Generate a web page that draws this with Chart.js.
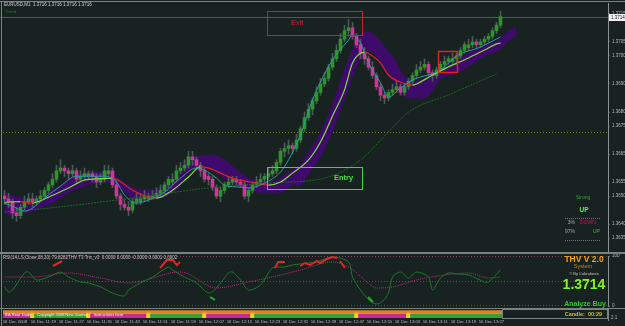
<!DOCTYPE html>
<html>
<head>
<meta charset="utf-8">
<script src="https://cdn.jsdelivr.net/npm/chart.js@4/dist/chart.umd.min.js"></script>
<style>
  body { margin: 0; background: #172221; }
  #wrap { position: relative; width: 625px; height: 326px; overflow: hidden; background: #172221; }
  canvas { position: absolute; left: 0; }
  .sep { position: absolute; background: #7a8282; }
</style>
</head>
<body>
<div id="wrap">
  <canvas id="mainChart" width="625" height="252" style="top:0"></canvas>
  <div class="sep" style="left:0;top:252px;width:625px;height:2px"></div>
  <canvas id="rsiChart" width="625" height="54" style="top:254px"></canvas>
  <div class="sep" style="left:0;top:308px;width:625px;height:1px"></div>
  <canvas id="stripChart" width="625" height="17" style="top:309px"></canvas>
  <div class="sep" style="left:0;top:1px;width:625px;height:1px"></div>
  <div class="sep" style="left:1px;top:1px;width:1px;height:325px"></div>
</div>
<script>
// ---- chart data (EURUSD M1, 16 Dec 2008) ----
const timeLabels = ['16 Dec 2008', '16 Dec 11:19', '16 Dec 11:27', '16 Dec 11:35', '16 Dec 11:43', '16 Dec 11:51',
  '16 Dec 11:59', '16 Dec 12:07', '16 Dec 12:15', '16 Dec 12:23', '16 Dec 12:31', '16 Dec 12:39',
  '16 Dec 12:47', '16 Dec 12:55', '16 Dec 13:03', '16 Dec 13:11', '16 Dec 13:19', '16 Dec 13:27'];
const priceTicks = [1.3715, 1.3705, 1.3700, 1.3690, 1.3680, 1.3675, 1.3665, 1.3655, 1.3650, 1.3640, 1.3635];
const rsiTicks = [0, 100];
const bidPrice = 1.3714;
const levelPrice = 1.3673;

const opens = [
  1.3650,1.3649,1.3648,1.3644,1.3643,1.3646,1.3648,1.3649,1.3648,1.3649,
  1.3650,1.3652,1.3654,1.3656,1.3659,1.3660,1.3659,1.3658,1.3659,1.3656,
  1.3657,1.3657,1.3658,1.3657,1.3655,1.3656,1.3658,1.3659,1.3654,1.3650,
  1.3647,1.3646,1.3645,1.3648,1.3648,1.3649,1.3649,1.3649,1.3650,1.3651,
  1.3652,1.3654,1.3655,1.3656,1.3659,1.3660,1.3661,1.3664,1.3663,1.3661,
  1.3659,1.3657,1.3656,1.3653,1.3650,1.3652,1.3654,1.3655,1.3656,1.3655,
  1.3654,1.3650,1.3652,1.3654,1.3655,1.3656,1.3657,1.3658,1.3659,1.3662,
  1.3666,1.3667,1.3668,1.3667,1.3670,1.3674,1.3678,1.3681,1.3684,1.3687,
  1.3690,1.3692,1.3696,1.3699,1.3702,1.3706,1.3709,1.3710,1.3707,1.3704,
  1.3701,1.3699,1.3696,1.3693,1.3689,1.3686,1.3685,1.3687,1.3688,1.3689,
  1.3687,1.3689,1.3691,1.3693,1.3695,1.3696,1.3697,1.3694,1.3693,1.3695,
  1.3697,1.3698,1.3698,1.3699,1.3700,1.3702,1.3703,1.3704,1.3705,1.3704,
  1.3705,1.3706,1.3707,1.3709,1.3711];
const highs = [
  1.3652,1.3651,1.3649,1.3646,1.3647,1.3650,1.3651,1.3651,1.3650,1.3652,
  1.3653,1.3655,1.3658,1.3661,1.3663,1.3661,1.3660,1.3661,1.3660,1.3659,
  1.3660,1.3659,1.3659,1.3658,1.3658,1.3661,1.3661,1.3660,1.3656,1.3651,
  1.3649,1.3648,1.3649,1.3651,1.3651,1.3652,1.3651,1.3652,1.3653,1.3654,
  1.3655,1.3657,1.3658,1.3661,1.3662,1.3663,1.3666,1.3666,1.3664,1.3662,
  1.3660,1.3658,1.3657,1.3654,1.3653,1.3655,1.3657,1.3657,1.3657,1.3656,
  1.3655,1.3653,1.3655,1.3657,1.3658,1.3658,1.3660,1.3661,1.3663,1.3667,
  1.3669,1.3670,1.3669,1.3672,1.3675,1.3680,1.3683,1.3685,1.3689,1.3692,
  1.3694,1.3697,1.3701,1.3704,1.3708,1.3711,1.3713,1.3712,1.3708,1.3706,
  1.3703,1.3700,1.3698,1.3694,1.3690,1.3687,1.3688,1.3690,1.3691,1.3690,
  1.3690,1.3692,1.3694,1.3697,1.3698,1.3699,1.3698,1.3695,1.3696,1.3698,
  1.3700,1.3700,1.3701,1.3701,1.3703,1.3705,1.3706,1.3707,1.3706,1.3706,
  1.3707,1.3708,1.3710,1.3712,1.3716];
const lows = [
  1.3647,1.3646,1.3642,1.3641,1.3642,1.3645,1.3647,1.3646,1.3647,1.3648,
  1.3649,1.3651,1.3653,1.3655,1.3658,1.3657,1.3656,1.3657,1.3655,1.3655,
  1.3656,1.3656,1.3655,1.3653,1.3654,1.3655,1.3657,1.3653,1.3649,1.3645,
  1.3645,1.3643,1.3644,1.3647,1.3647,1.3648,1.3648,1.3649,1.3649,1.3650,
  1.3651,1.3653,1.3654,1.3655,1.3658,1.3659,1.3660,1.3661,1.3660,1.3657,
  1.3655,1.3654,1.3652,1.3649,1.3648,1.3651,1.3653,1.3654,1.3654,1.3653,
  1.3649,1.3648,1.3651,1.3653,1.3654,1.3655,1.3656,1.3657,1.3658,1.3661,
  1.3664,1.3665,1.3665,1.3666,1.3669,1.3673,1.3677,1.3679,1.3683,1.3686,
  1.3689,1.3691,1.3695,1.3698,1.3701,1.3705,1.3707,1.3706,1.3703,1.3699,
  1.3697,1.3695,1.3692,1.3688,1.3684,1.3683,1.3684,1.3686,1.3687,1.3686,
  1.3686,1.3688,1.3690,1.3692,1.3694,1.3695,1.3693,1.3691,1.3692,1.3694,
  1.3695,1.3697,1.3697,1.3697,1.3699,1.3701,1.3702,1.3703,1.3703,1.3703,
  1.3704,1.3705,1.3706,1.3708,1.3710];
const closes = [
  1.3649,1.3648,1.3644,1.3643,1.3646,1.3648,1.3649,1.3648,1.3649,1.3650,
  1.3652,1.3654,1.3656,1.3659,1.3660,1.3659,1.3658,1.3659,1.3656,1.3657,
  1.3658,1.3658,1.3657,1.3655,1.3656,1.3659,1.3659,1.3654,1.3650,1.3647,
  1.3646,1.3645,1.3648,1.3649,1.3649,1.3650,1.3650,1.3650,1.3651,1.3652,
  1.3654,1.3656,1.3656,1.3659,1.3660,1.3661,1.3664,1.3663,1.3661,1.3659,
  1.3656,1.3656,1.3653,1.3650,1.3652,1.3654,1.3655,1.3656,1.3655,1.3654,
  1.3650,1.3652,1.3654,1.3655,1.3656,1.3657,1.3658,1.3659,1.3662,1.3666,
  1.3667,1.3668,1.3667,1.3670,1.3674,1.3678,1.3681,1.3684,1.3687,1.3690,
  1.3692,1.3696,1.3699,1.3702,1.3706,1.3709,1.3710,1.3707,1.3704,1.3701,
  1.3699,1.3696,1.3693,1.3689,1.3686,1.3685,1.3687,1.3688,1.3689,1.3687,
  1.3689,1.3691,1.3693,1.3695,1.3696,1.3697,1.3694,1.3693,1.3695,1.3697,
  1.3698,1.3699,1.3699,1.3700,1.3702,1.3704,1.3704,1.3705,1.3704,1.3705,
  1.3706,1.3707,1.3709,1.3711,1.3714];

// moving averages, read at bar positions
const fastMaX = [0,2,5,7,10,14,18,21,25,28,30,33,36,40,44,48,50,53,55,59,61,65,69,71,74,77,82,86,87,89,91,94,96,99,102,109,113,119,124];
const fastMaY = [1.36475,1.36464,1.36446,1.36457,1.36493,1.36536,1.36571,1.36571,1.36571,1.36550,1.36504,1.36475,1.36486,
  1.36514,1.36564,1.36600,1.36593,1.36564,1.36539,1.36532,1.36529,1.36546,1.36586,1.36629,1.36718,1.36843,1.36986,
  1.37057,1.37075,1.37046,1.36975,1.36904,1.36854,1.36886,1.36914,1.36950,1.37000,1.37032,1.37068];
const midMaX = [0,4,7,11,16,20,24,27,32,36,38,42,46,49,51,57,63,66,69,72,76,79,82,85,87,90,92,94,96,99,102,103,107,111,116,120,123,124];
const midMaY = [1.36478,1.36480,1.36475,1.36496,1.36529,1.36557,1.36562,1.36564,1.36521,1.36496,1.36493,1.36521,1.36568,
  1.36604,1.36600,1.36564,1.36546,1.36539,1.36550,1.36582,1.36629,1.36693,1.36786,1.36879,1.36975,1.37014,1.37000,
  1.36975,1.36932,1.36907,1.36896,1.36900,1.36932,1.36961,1.36993,1.37021,1.37043,1.37046];
const slowMaX = [0,11,32,51,66,81,89,96,101,111,123];
const slowMaY = [1.36443,1.36457,1.36493,1.36529,1.36546,1.36568,1.36629,1.36729,1.36800,1.36861,1.36936];

// purple trend cloud
const bandX = [0,1,4,6,9,11,14,16,20,24,26,29,32,36,39,43,46,49,52,55,58,61,65,69,72,74,76,79,82,85,88,91,93,95,98,100,103,105,109,113,116,120,124,126,128];
const bandHi = [1.36514,1.36507,1.36493,1.36486,1.36493,1.36514,1.36536,1.36557,1.36582,1.36586,1.36586,1.36557,1.36529,
  1.36521,1.36529,1.36564,1.36629,1.36643,1.36646,1.36629,1.36593,1.36564,1.36550,1.36564,1.36593,1.36611,1.36657,
  1.36725,1.36825,1.36950,1.37050,1.37086,1.37068,1.37032,1.36975,1.36925,1.36910,1.36918,1.36946,1.36982,1.37011,
  1.37036,1.37061,1.37089,1.37100];
const bandLo = [1.36443,1.36432,1.36436,1.36443,1.36457,1.36471,1.36493,1.36514,1.36536,1.36550,1.36550,1.36529,1.36493,
  1.36486,1.36493,1.36521,1.36586,1.36600,1.36593,1.36564,1.36546,1.36521,1.36514,1.36514,1.36539,1.36539,1.36582,
  1.36643,1.36736,1.36850,1.36964,1.37018,1.37000,1.36950,1.36896,1.36857,1.36850,1.36850,1.36918,1.36939,1.36964,
  1.37000,1.37025,1.37054,1.37075];

// lower window: RSI, its signal and the Trix markers
const rsiX = [0,1,2,5,6,8,11,14,16,19,21,24,27,30,31,34,37,41,42,45,48,51,53,56,57,59,61,64,67,70,72,76,78,82,86,87,89,92,94,96,97,99,101,103,106,107,109,111,113,116,120,121,124];
const rsiY = [38,28,32,66,68,52,58,68,58,48,46,38,26,20,32,46,58,78,72,58,46,26,36,66,68,52,32,42,76,78,82,86,88,98,88,58,32,6,6,26,58,68,56,68,58,32,56,66,64,62,48,48,72];
const sigX = [0,7,16,24,31,44,53,61,68,74,82,86,91,93,97,103,110,116,121,124];
const sigY = [58,58,66,56,46,68,36,48,60,72,88,78,46,36,38,52,62,66,56,58];
const trixRed = [[12.1,80],[14.4,90],[15,null],[38.9,76],[40.6,92],[42.1,92],[43.1,82],[43.9,88],[44.5,null],
  [67.6,76],[68.4,88],[70.1,88],[71,null],[73.9,80],[75.1,86],[76.4,82],[78.1,90],[78.9,86],[80.6,94],[82.1,98],
  [83.1,96],[83.5,null],[83.9,90],[85.1,76]];
const trixGreen = [[51.4,18],[52.6,12],[60,null],[90.9,18],[92.1,8]];

// trend strip: bar ranges and state (1 up, -1 down, 0 turn)
const stripStart = [0,7,8,21,22,36,37,50,51,62,63,88,89,101,102];
const stripEnd   = [6,7,20,21,35,36,49,50,61,62,87,88,100,101,124];
const stripState = [-1,0,1,0,-1,0,1,0,-1,0,1,0,-1,0,1];
const stripNotes = ['EA Real Trade', 'Copyright 2008', 'New Journal', 'Instructions here'];

// ---- look ----
const BG = '#172221';
const UP = '#2c9626', DOWN = '#d0359d';
const X_MIN = -0.375, X_MAX = 150.875;
const SMALL = 'Liberation Sans';

const pts = (xs, ys) => xs.map((x, i) => ({ x: x, y: ys[i] }));
const pairs = arr => arr.map(p => ({ x: p[0], y: p[1] }));

function txt(ctx, s, x, y, color, size, align, bold) {
  ctx.font = (bold ? 'bold ' : '') + size + 'px "' + SMALL + '"';
  ctx.fillStyle = color;
  ctx.textAlign = align || 'left';
  ctx.textBaseline = 'middle';
  ctx.fillText(s, x, y);
}
function hline(ctx, x0, x1, y, color, dash) {
  ctx.save();
  ctx.strokeStyle = color;
  ctx.lineWidth = 1;
  ctx.setLineDash(dash || []);
  ctx.beginPath();
  ctx.moveTo(x0, y);
  ctx.lineTo(x1, y);
  ctx.stroke();
  ctx.restore();
}
function rightAxis(width) {
  return s => { s.width = width; s.paddingTop = 0; s.paddingBottom = 0; };
}

const paintBg = {
  id: 'paintBg',
  beforeDraw(chart) {
    const ctx = chart.ctx;
    ctx.save();
    ctx.fillStyle = BG;
    ctx.fillRect(0, 0, chart.width, chart.height);
    ctx.restore();
  }
};

// ---- main window ----
const mainOverlay = {
  id: 'mainOverlay',
  beforeDatasetsDraw(chart) {
    const { ctx, chartArea: a, scales: { y } } = chart;
    hline(ctx, a.left, a.right, Math.round(y.getPixelForValue(levelPrice)) + 0.5, '#7f7b1c', [1, 2]);
    hline(ctx, 0, a.right, Math.round(y.getPixelForValue(bidPrice)) + 0.5, '#4f5a5a');
  },
  afterDatasetsDraw(chart) {
    const { ctx, scales: { x, y } } = chart;
    const box = (b0, b1, p0, p1, color, w) => {
      const r = { l: x.getPixelForValue(b0), r: x.getPixelForValue(b1), t: y.getPixelForValue(p0), b: y.getPixelForValue(p1) };
      ctx.save();
      ctx.strokeStyle = color;
      ctx.lineWidth = w;
      ctx.strokeRect(Math.round(r.l) + 0.5, Math.round(r.t) + 0.5, Math.round(r.r - r.l), Math.round(r.b - r.t));
      ctx.restore();
      return r;
    };
    const ex = box(65.6, 89.4, 1.37161, 1.37075, '#c81e3c', 1);
    txt(ctx, 'Exit', ex.l + 24, (ex.t + ex.b) / 2, '#d0203e', 7.5);
    const en = box(65.6, 89.4, 1.36604, 1.36525, '#3ad83a', 1);
    txt(ctx, 'Entry', en.r - 9, (en.t + en.b) / 2, '#44e044', 7.5, 'right', true);
    box(108.4, 113.1, 1.37018, 1.36943, '#e42020', 1.5);
  },
  afterDraw(chart) {
    const { ctx, chartArea: a, scales: { y } } = chart;
    txt(ctx, 'EURUSD,M1  1.3716 1.3716 1.3716 1.3716', 4, 5, '#d2d2d2', 4.5);
    txt(ctx, 'Trend', 5, 12, '#1f8c22', 4.2);
    // trend readout at the right
    txt(ctx, 'Strong', 583, 198, '#3a9c3a', 5, 'center');
    txt(ctx, 'UP', 584, 210, '#62ec5a', 6.5, 'center', true);
    hline(ctx, 565, 600, 218.5, '#3a9c3a', [1, 1]);
    txt(ctx, '3%', 575, 223, '#a8a8a8', 5, 'right');
    txt(ctx, 'DOWN', 580, 223, '#d0145a', 5);
    txt(ctx, '97%', 575, 232, '#a8a8a8', 5, 'right');
    txt(ctx, 'UP', 593, 232, '#3cbc3c', 5);
    hline(ctx, 565, 600, 240.5, '#6c7272', [1, 1]);
    // current price tag on the price axis
    const by = y.getPixelForValue(bidPrice);
    ctx.fillStyle = '#f2f2f2';
    ctx.fillRect(a.right + 1, Math.round(by) - 3, 16, 7);
    txt(ctx, bidPrice.toFixed(4), a.right + 3, Math.round(by) + 0.5, '#101010', 4.5);
  }
};

new Chart(document.getElementById('mainChart'), {
  type: 'bar',
  data: {
    datasets: [
      { type: 'line', data: pts(bandX, bandLo), borderColor: '#3e0b6c', borderWidth: 1, pointRadius: 0,
        cubicInterpolationMode: 'monotone', order: 10 },
      { type: 'line', data: pts(bandX, bandHi), borderColor: '#3e0b6c', borderWidth: 1, pointRadius: 0,
        cubicInterpolationMode: 'monotone', fill: '-1', backgroundColor: '#3e0b6c', order: 10 },
      { type: 'bar', data: lows.map((l, i) => ({ x: i, y: [l, highs[i]] })), backgroundColor: '#4e5a5a',
        barThickness: 1, grouped: false, order: 9 },
      { type: 'bar', data: opens.map((o, i) => ({ x: i, y: [o, closes[i]] })),
        backgroundColor: closes.map((c, i) => c >= opens[i] ? UP : DOWN),
        barThickness: 3, minBarLength: 1, grouped: false, order: 8 },
      { type: 'line', data: pts(slowMaX, slowMaY), borderColor: '#1f6824', borderWidth: 1, borderDash: [2, 1],
        pointRadius: 0, cubicInterpolationMode: 'monotone', order: 7 },
      { type: 'line', data: pts(midMaX, midMaY), borderColor: '#82de3a', borderWidth: 1.2, pointRadius: 0,
        cubicInterpolationMode: 'monotone', order: 6,
        segment: { borderColor: c => c.p1.parsed.y > c.p0.parsed.y ? '#82de3a' : (c.p1.parsed.y < c.p0.parsed.y ? '#e2241c' : '#e8e02a') } },
      { type: 'line', data: pts(fastMaX, fastMaY), borderColor: '#26a0a4', borderWidth: 1, pointRadius: 0,
        cubicInterpolationMode: 'monotone', order: 5 }
    ]
  },
  options: {
    responsive: false,
    animation: false,
    events: [],
    layout: { padding: { left: 3, top: 3, right: 0, bottom: 1 } },
    plugins: { legend: { display: false }, tooltip: { enabled: false } },
    scales: {
      x: { type: 'linear', min: X_MIN, max: X_MAX, offset: false, display: false },
      y: {
        type: 'linear', position: 'right', min: 1.36304, max: 1.37189,
        afterFit: rightAxis(17),
        afterBuildTicks: s => { s.ticks = priceTicks.map(v => ({ value: v })); },
        ticks: { color: '#b8bcbc', font: { size: 4.5, family: SMALL }, padding: 2, autoSkip: false,
          callback: v => v.toFixed(4) },
        grid: { drawOnChartArea: false, color: '#3d4c9e', tickLength: 2 },
        border: { color: '#8a9292' }
      }
    }
  },
  plugins: [paintBg, mainOverlay]
});

// ---- RSI window ----
const rsiOverlay = {
  id: 'rsiOverlay',
  beforeDatasetsDraw(chart) {
    const { ctx, chartArea: a, scales: { y } } = chart;
    hline(ctx, a.left, a.right, Math.round(y.getPixelForValue(100)) + 0.5, '#8a3f5c', [1, 2]);
    hline(ctx, a.left, a.right, Math.round(y.getPixelForValue(50)) + 0.5, '#4a5656', [1, 2]);
    hline(ctx, a.left, a.right, Math.round(y.getPixelForValue(0)) - 0.5, '#4a5656', [1, 2]);
  },
  afterDraw(chart) {
    const ctx = chart.ctx;
    txt(ctx, 'RSI(14,LS,Close,08,20) 79.8282', 3, 3.5, '#c4c4c4', 4.5);
    txt(ctx, 'THV T3 Trix_v3  0.0000 0.0000 -0.0000 0.0001 0.0002', 68, 3.5, '#c4c4c4', 4.5);
    txt(ctx, 'THV V 2.0', 584, 5.5, '#f0a21a', 8.5, 'center', true);
    txt(ctx, 'System', 583, 12.5, '#c8841e', 5.5, 'center');
    txt(ctx, '\u00a9 By Cobraforex', 584, 19.5, '#c4c4c4', 4, 'center');
    txt(ctx, '1.3714', 584, 31.5, '#86f21e', 14, 'center', true);
    txt(ctx, 'Analyze Buy', 585, 50, '#36c436', 7, 'center', true);
  }
};

new Chart(document.getElementById('rsiChart'), {
  type: 'line',
  data: {
    datasets: [
      { data: pts(sigX, sigY), borderColor: '#b5307a', borderWidth: 1, borderDash: [1, 1], pointRadius: 0,
        cubicInterpolationMode: 'monotone', order: 3 },
      { data: pts(rsiX, rsiY), borderColor: '#22772a', borderWidth: 1, pointRadius: 0, tension: 0.3, order: 2 },
      { data: pairs(trixRed), borderColor: '#e22626', borderWidth: 2, pointRadius: 0, spanGaps: false, order: 1 },
      { data: pairs(trixGreen), borderColor: '#22b022', borderWidth: 2, pointRadius: 0, spanGaps: false, order: 1 }
    ]
  },
  options: {
    responsive: false,
    animation: false,
    events: [],
    layout: { padding: { left: 3, top: 2, right: 0, bottom: 2 } },
    plugins: { legend: { display: false }, tooltip: { enabled: false } },
    scales: {
      x: { type: 'linear', min: X_MIN, max: X_MAX, offset: false, display: false },
      y: {
        type: 'linear', position: 'right', min: 0, max: 100,
        afterFit: rightAxis(17),
        afterBuildTicks: s => { s.ticks = rsiTicks.map(v => ({ value: v })); },
        ticks: { color: '#b8bcbc', font: { size: 4.5, family: SMALL }, padding: 2, autoSkip: false },
        grid: { drawOnChartArea: false, color: '#3d4c9e', tickLength: 2 },
        border: { color: '#8a9292' }
      }
    }
  },
  plugins: [paintBg, rsiOverlay]
});

// ---- trend strip and time axis ----
const stripColor = st => st > 0 ? '#3a9e36' : (st < 0 ? '#c42d8e' : '#f0d022');
const stripShade = st => st > 0 ? '#1f6e22' : (st < 0 ? '#a8207a' : '#f0d022');
const segs = (row) => stripStart.map((s, k) => ({ y: row, x: [s - 0.5, stripEnd[k] + 0.5] }));

const stripOverlay = {
  id: 'stripOverlay',
  afterDraw(chart) {
    const { ctx, scales: { x } } = chart;
    const noteAt = [0.2, 8.2, 15.2, 22.3];
    stripNotes.forEach((n, k) => txt(ctx, n, x.getPixelForValue(noteAt[k]), 6.3, '#f4f4f4', 4));
    ctx.save();
    ctx.strokeStyle = '#7a8282';
    ctx.lineWidth = 1;
    ctx.strokeRect(502.5, 0.5, 105, 9);
    ctx.beginPath();
    ctx.moveTo(608.5, 0);
    ctx.lineTo(608.5, 12);
    ctx.stroke();
    ctx.restore();
    txt(ctx, 'Candle:  00:29', 602, 5, '#c8c030', 5.5, 'right', true);
    txt(ctx, '2.1', 611, 9, '#b8bcbc', 4.5);
  }
};

new Chart(document.getElementById('stripChart'), {
  type: 'bar',
  data: {
    datasets: [
      { data: [{ y: 1.5, x: [-0.5, 124.5] }], backgroundColor: '#e0841e', barThickness: 2, grouped: false },
      { data: [{ y: 3, x: [-0.5, 124.5] }], backgroundColor: '#e9a07c', barThickness: 1, grouped: false },
      { data: segs(5.75), backgroundColor: stripState.map(stripColor), barThickness: 4.5, grouped: false },
      { data: segs(7.5), backgroundColor: stripState.map(stripShade), barThickness: 1.5, grouped: false },
      { data: segs(4.75).filter((d, k) => stripState[k] === 0), backgroundColor: '#f0d022', barThickness: 7, grouped: false }
    ]
  },
  options: {
    indexAxis: 'y',
    responsive: false,
    animation: false,
    events: [],
    layout: { padding: { left: 3, top: 1, right: 17, bottom: 0 } },
    plugins: { legend: { display: false }, tooltip: { enabled: false } },
    scales: {
      y: { type: 'linear', min: 0, max: 8, reverse: true, offset: false, display: false },
      x: {
        type: 'linear', position: 'bottom', min: X_MIN, max: X_MAX, offset: false,
        afterFit: s => { s.height = 8; s.paddingLeft = 0; s.paddingRight = 0; },
        afterBuildTicks: s => { s.ticks = timeLabels.map((t, k) => ({ value: k * 7 - 0.45 })); },
        ticks: { align: 'start', color: '#b8bcbc', font: { size: 4.3, family: SMALL }, padding: 1,
          autoSkip: false, maxRotation: 0, minRotation: 0, callback: (v, i) => timeLabels[i] },
        grid: { display: false, drawTicks: false },
        border: { display: false }
      }
    }
  },
  plugins: [paintBg, stripOverlay]
});
</script>
</body>
</html>
